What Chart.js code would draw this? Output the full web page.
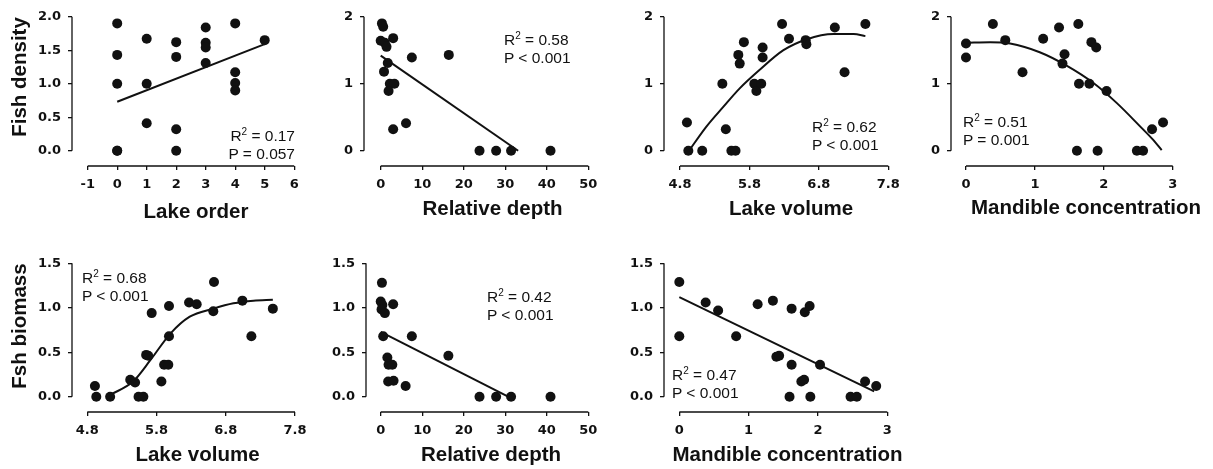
<!DOCTYPE html>
<html>
<head>
<meta charset="utf-8">
<script src="https://cdn.jsdelivr.net/npm/chart.js@4"></script>
<style>
  html, body { margin: 0; padding: 0; background: #fff; overflow: hidden; }
  #fig { position: relative; width: 1213px; height: 469px; overflow: hidden; }
  .panel { position: absolute; }
  .note { position: absolute; font: 15.5px "Liberation Sans", Arial, sans-serif; line-height: 18px; color: #111; white-space: nowrap; }
  .note.right { text-align: right; }
  .note sup { font-size: 10px; line-height: 0; vertical-align: 0; position: relative; top: -6px; }
</style>
</head>
<body>
<div id="fig"></div>
<script>
// ── Data ─────────────────────────────────────────────────────────────────────
// top row: fish density
const orderX    = [0, 0, 0, 0, 0, 1, 1, 1, 2, 2, 2, 2, 3, 3, 3, 3, 4, 4, 4, 4, 5];
const orderY    = [1.90, 1.43, 1.00, 0, 0, 1.67, 1.00, 0.41, 1.62, 1.40, 0.32, 0, 1.84, 1.61, 1.54, 1.31, 1.90, 1.17, 1.01, 0.90, 1.65];
const orderFitX = [0, 5];
const orderFitY = [0.73, 1.59];

const depthX    = [0.3, 0.6, 0, 1.0, 1.4, 3.0, 7.5, 16.4, 1.7, 0.8, 2.2, 3.3, 1.9, 6.1, 3.0, 23.8, 27.8, 31.4, 40.9];
const depthY    = [1.90, 1.85, 1.64, 1.61, 1.55, 1.68, 1.39, 1.43, 1.31, 1.18, 1.00, 1.00, 0.89, 0.41, 0.32, 0, 0, 0, 0];
const depthFitX = [0, 33.1];
const depthFitY = [1.42, 0];

const volX      = [4.90, 4.92, 5.12, 5.41, 5.46, 5.54, 5.60, 5.64, 5.66, 5.72, 5.87, 5.90, 5.97, 5.99, 5.99, 6.27, 6.37, 6.61, 6.62, 7.03, 7.17, 7.47];
const volY      = [0.42, 0, 0, 1.00, 0.32, 0, 0, 1.43, 1.30, 1.62, 1.00, 0.89, 1.00, 1.54, 1.39, 1.89, 1.67, 1.65, 1.59, 1.84, 1.17, 1.89];
const volFitX   = [4.93, 5.18, 5.42, 5.66, 5.94, 6.29, 6.62, 7.01, 7.30, 7.47];
const volFitY   = [0, 0.36, 0.65, 0.93, 1.20, 1.50, 1.66, 1.74, 1.74, 1.71];

const mandX     = [0, 0, 0.39, 0.57, 0.82, 1.12, 1.35, 1.43, 1.40, 1.63, 1.64, 1.61, 1.79, 1.82, 1.89, 1.91, 2.04, 2.48, 2.57, 2.70, 2.86];
const mandY     = [1.60, 1.39, 1.89, 1.65, 1.17, 1.67, 1.84, 1.44, 1.30, 1.89, 1.00, 0, 1.00, 1.62, 1.54, 0, 0.89, 0, 0, 0.32, 0.42];
const mandFitX  = [0, 0.35, 0.64, 1.07, 1.46, 1.85, 2.19, 2.53, 2.70, 2.84];
const mandFitY  = [1.61, 1.62, 1.60, 1.47, 1.27, 1.01, 0.71, 0.36, 0.18, 0.01];

// bottom row: fish biomass
const bVolX     = [4.91, 4.93, 5.13, 5.42, 5.49, 5.54, 5.61, 5.65, 5.68, 5.73, 5.87, 5.91, 5.97, 5.98, 5.98, 6.27, 6.38, 6.63, 6.62, 7.04, 7.17, 7.48];
const bVolY     = [0.12, 0, 0, 0.19, 0.16, 0, 0, 0.47, 0.46, 0.94, 0.17, 0.36, 0.36, 0.68, 1.02, 1.06, 1.04, 1.29, 0.96, 1.08, 0.68, 0.99];
const bVolFitX  = [5.13, 5.46, 5.71, 6.00, 6.28, 6.62, 6.91, 7.20, 7.48];
const bVolFitY  = [0.02, 0.17, 0.41, 0.71, 0.90, 0.99, 1.05, 1.08, 1.09];

const bDepthX   = [0.3, 0, 0.4, 3.0, 0.2, 1.0, 0.6, 7.5, 16.3, 1.6, 1.9, 2.8, 1.8, 3.1, 6.0, 23.8, 27.8, 31.4, 40.9];
const bDepthY   = [1.28, 1.07, 1.03, 1.04, 0.98, 0.94, 0.68, 0.68, 0.46, 0.44, 0.36, 0.36, 0.17, 0.18, 0.12, 0, 0, 0, 0];
const bDepthFitX = [0, 30.7];
const bDepthFitY = [0.73, 0];

const bMandX    = [0, 0, 0.38, 0.56, 0.82, 1.13, 1.35, 1.40, 1.44, 1.62, 1.62, 1.59, 1.76, 1.80, 1.81, 1.88, 1.89, 2.03, 2.47, 2.56, 2.68, 2.84];
const bMandY    = [1.29, 0.68, 1.06, 0.97, 0.68, 1.04, 1.08, 0.45, 0.46, 0.99, 0.36, 0, 0.17, 0.19, 0.95, 1.02, 0, 0.36, 0, 0, 0.17, 0.12];
const bMandFitX = [0, 2.81];
const bMandFitY = [1.12, 0.06];

// tick labels
const orderTicks = ['-1', '0', '1', '2', '3', '4', '5', '6'];
const depthTicks = ['0', '10', '20', '30', '40', '50'];
const volTicks   = ['4.8', '5.8', '6.8', '7.8'];
const mandTicks  = ['0', '1', '2', '3'];
const densTicksA = ['0.0', '0.5', '1.0', '1.5', '2.0'];
const densTicksB = ['0', '1', '2'];
const massTicks  = ['0.0', '0.5', '1.0', '1.5'];

// fit statistics
const rSq  = ['0.17', '0.58', '0.62', '0.51', '0.68', '0.42', '0.47'];
const pVal = ['P = 0.057', 'P < 0.001', 'P < 0.001', 'P = 0.001', 'P < 0.001', 'P < 0.001', 'P < 0.001'];

// ── Panels ───────────────────────────────────────────────────────────────────
const panels = [
  { px: orderX,  py: orderY,  fx: orderFitX,  fy: orderFitY,  curve: false, xt: orderTicks, yt: densTicksA, xTitle: 'Lake order',             yTitle: 'Fish density' },
  { px: depthX,  py: depthY,  fx: depthFitX,  fy: depthFitY,  curve: false, xt: depthTicks, yt: densTicksB, xTitle: 'Relative depth' },
  { px: volX,    py: volY,    fx: volFitX,    fy: volFitY,    curve: true,  xt: volTicks,   yt: densTicksB, xTitle: 'Lake volume' },
  { px: mandX,   py: mandY,   fx: mandFitX,   fy: mandFitY,   curve: true,  xt: mandTicks,  yt: densTicksB, xTitle: 'Mandible concentration' },
  { px: bVolX,   py: bVolY,   fx: bVolFitX,   fy: bVolFitY,   curve: true,  xt: volTicks,   yt: massTicks,  xTitle: 'Lake volume',            yTitle: 'Fsh biomass' },
  { px: bDepthX, py: bDepthY, fx: bDepthFitX, fy: bDepthFitY, curve: false, xt: depthTicks, yt: massTicks,  xTitle: 'Relative depth' },
  { px: bMandX,  py: bMandY,  fx: bMandFitX,  fy: bMandFitY,  curve: false, xt: mandTicks,  yt: massTicks,  xTitle: 'Mandible concentration' },
];

// page geometry: plot box (l,r,t,b), pixel of first/last tick, axis box sizes, note spot
const boxes = [
  { l: 72,  r: 320,  t: -12, b: 166, xPx: [87.7, 294.2],  yPx: [150.7, 16.7],  W: 64, H: 59, note: { right: 295, top: 127 } },
  { l: 364, r: 621,  t: -12, b: 166, xPx: [380.7, 588.3], yPx: [150.7, 16.7],  W: 40, H: 56, note: { left: 504, top: 31 } },
  { l: 664, r: 918,  t: -12, b: 166, xPx: [680, 888.3],   yPx: [150.7, 16.7],  W: 40, H: 56, note: { left: 812, top: 118 } },
  { l: 951, r: 1221, t: -12, b: 166, xPx: [966, 1172.7],  yPx: [150.7, 16.7],  W: 40, H: 55, note: { left: 963, top: 113 } },
  { l: 72,  r: 323,  t: 240, b: 412, xPx: [87.3, 295],    yPx: [396.7, 263.3], W: 64, H: 56, note: { left: 82,  top: 269 } },
  { l: 366, r: 616,  t: 240, b: 412, xPx: [380.7, 588.3], yPx: [396.7, 263.3], W: 40, H: 56, note: { left: 487, top: 288 } },
  { l: 664, r: 911,  t: 240, b: 412, xPx: [679.3, 887.3], yPx: [396.7, 263.3], W: 40, H: 56, note: { left: 672, top: 366 } },
];

const INK = '#111';
const tickFont  = { family: 'DejaVu Sans', weight: 'bold', size: 13 };
const titleFont = { family: 'Liberation Sans', weight: 'bold', size: 20.5 };

// value range so the ticks land on the measured pixels
function limits(labels, px, lo, hi) {
  const v0 = +labels[0], v1 = +labels[labels.length - 1];
  const k = (px[1] - px[0]) / (v1 - v0);
  return { min: v0 + (lo - px[0]) / k, max: v1 + (hi - px[1]) / k };
}

function axis(labels, lim, title, size, vertical) {
  return {
    type: 'linear', bounds: 'data', min: lim.min, max: lim.max,
    border: { display: false },
    grid: { display: true, drawOnChartArea: false, drawTicks: true, tickLength: 4, color: INK, lineWidth: 1.3 },
    ticks: { autoSkip: false, maxRotation: 0, padding: vertical ? 7 : 7, color: INK, font: tickFont,
             callback: (v, i) => labels[i] },
    afterBuildTicks: s => { s.ticks = labels.map(t => ({ value: +t })); },
    afterFit: s => {
      if (vertical) s.width = size; else s.height = size;
      s.paddingTop = s.paddingBottom = s.paddingLeft = s.paddingRight = 0;
    },
    title: { display: !!title, text: title || '', color: INK, font: titleFont, padding: 0 }
  };
}

// axis lines only between the outer ticks (detached R-style axes)
const axisLines = {
  id: 'axisLines',
  beforeDatasetsDraw(chart) {
    const { ctx, chartArea, scales: { x, y } } = chart;
    ctx.save();
    ctx.strokeStyle = INK;
    ctx.lineWidth = 1.3;
    ctx.beginPath();
    ctx.moveTo(x.getPixelForValue(x.ticks[0].value), chartArea.bottom);
    ctx.lineTo(x.getPixelForValue(x.ticks[x.ticks.length - 1].value), chartArea.bottom);
    ctx.moveTo(chartArea.left, y.getPixelForValue(y.ticks[0].value));
    ctx.lineTo(chartArea.left, y.getPixelForValue(y.ticks[y.ticks.length - 1].value));
    ctx.stroke();
    ctx.restore();
  }
};

const fig = document.getElementById('fig');

panels.forEach((p, i) => {
  const g = boxes[i];
  const left = g.l - g.W;
  const wrap = document.createElement('div');
  wrap.className = 'panel';
  wrap.style.left = left + 'px';
  wrap.style.top = g.t + 'px';
  wrap.style.width = (g.r - left) + 'px';
  wrap.style.height = (g.b + g.H - g.t) + 'px';
  const cv = document.createElement('canvas');
  wrap.appendChild(cv);
  fig.appendChild(wrap);

  new Chart(cv, {
    type: 'scatter',
    data: {
      datasets: [
        { data: p.fx.map((x, j) => ({ x, y: p.fy[j] })), showLine: true, pointRadius: 0,
          borderColor: INK, borderWidth: 2, cubicInterpolationMode: p.curve ? 'monotone' : 'default',
          tension: 0, clip: false },
        { data: p.px.map((x, j) => ({ x, y: p.py[j] })), pointRadius: 5, pointBackgroundColor: INK,
          pointBorderWidth: 0, clip: false }
      ]
    },
    options: {
      responsive: true, maintainAspectRatio: false, animation: false, events: [],
      layout: { padding: 0, autoPadding: false },
      plugins: { legend: { display: false }, tooltip: { enabled: false } },
      scales: {
        x: axis(p.xt, limits(p.xt, g.xPx, g.l, g.r), p.xTitle, g.H, false),
        y: axis(p.yt, limits(p.yt, g.yPx, g.b, g.t), p.yTitle, g.W, true)
      }
    },
    plugins: [axisLines]
  });

  const note = document.createElement('div');
  note.className = 'note' + (g.note.right ? ' right' : '');
  if (g.note.right) note.style.right = (1213 - g.note.right) + 'px';
  else note.style.left = g.note.left + 'px';
  note.style.top = g.note.top + 'px';
  note.innerHTML = 'R<sup>2</sup> = ' + rSq[i] + '<br>' + pVal[i];
  fig.appendChild(note);
});
</script>
</body>
</html>
